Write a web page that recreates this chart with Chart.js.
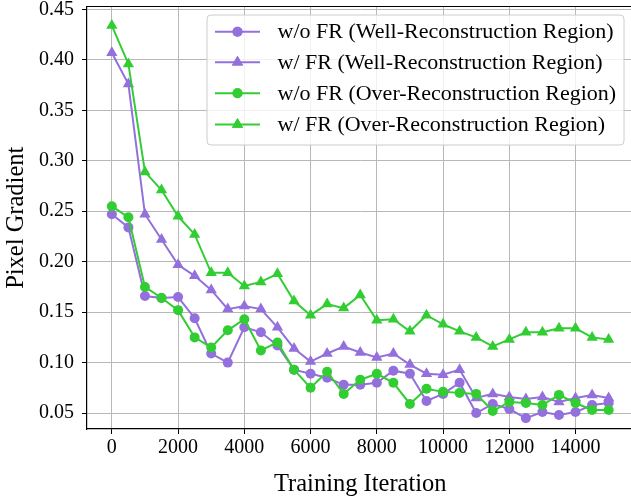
<!DOCTYPE html>
<html>
<head>
<meta charset="utf-8">
<script src="https://cdn.jsdelivr.net/npm/chart.js@4.4.0/dist/chart.umd.min.js"></script>
<style>
html,body{margin:0;padding:0;background:#fff;overflow:hidden;width:631px;height:503px;}
#wrap{position:absolute;left:0;top:0;width:640px;height:503px;}
</style>
</head>
<body>
<div id="wrap"><canvas id="c" width="640" height="503"></canvas></div>
<script>
const iterations = [0,500,1000,1500,2000,2500,3000,3500,4000,4500,5000,5500,6000,6500,7000,7500,8000,8500,9000,9500,10000,10500,11000,11500,12000,12500,13000,13500,14000,14500,15000];
const woFR_well = [0.247,0.234,0.166,0.164,0.165,0.144,0.109,0.100,0.135,0.130,0.117,0.093,0.089,0.085,0.078,0.078,0.080,0.092,0.089,0.062,0.069,0.080,0.050,0.059,0.054,0.045,0.051,0.048,0.051,0.058,0.060];
const wFR_well = [0.407,0.376,0.247,0.222,0.197,0.186,0.172,0.153,0.156,0.153,0.135,0.114,0.101,0.109,0.116,0.110,0.105,0.109,0.098,0.089,0.088,0.093,0.065,0.069,0.066,0.064,0.066,0.061,0.065,0.068,0.065];
const woFR_over = [0.255,0.244,0.175,0.164,0.152,0.125,0.115,0.132,0.143,0.112,0.120,0.093,0.075,0.091,0.069,0.083,0.089,0.080,0.059,0.074,0.071,0.070,0.069,0.052,0.061,0.060,0.058,0.068,0.060,0.053,0.053];
const wFR_over = [0.434,0.396,0.289,0.271,0.245,0.227,0.189,0.189,0.176,0.180,0.188,0.161,0.147,0.158,0.154,0.167,0.142,0.143,0.131,0.147,0.138,0.131,0.125,0.116,0.123,0.130,0.130,0.134,0.134,0.125,0.123];
const seriesLabels = ["w/o FR (Well-Reconstruction Region)","w/ FR (Well-Reconstruction Region)","w/o FR (Over-Reconstruction Region)","w/ FR (Over-Reconstruction Region)"];
const xTicks = [0,2000,4000,6000,8000,10000,12000,14000];
const yTicks = [0.05,0.10,0.15,0.20,0.25,0.30,0.35,0.40,0.45];

const PURPLE = '#9370DB', GREEN = '#32CD32';
const FONT = "'Liberation Serif', 'Times New Roman', serif";
const styles = [
  {color:PURPLE, point:'circle', r:5},
  {color:PURPLE, point:'triangle', r:6.5},
  {color:GREEN, point:'circle', r:5},
  {color:GREEN, point:'triangle', r:6.5}
];
const allSeries = [woFR_well, wFR_well, woFR_over, wFR_over];

const datasets = allSeries.map((s,i)=>({
  label: seriesLabels[i],
  data: s.map((v,j)=>({x: iterations[j], y: v})),
  borderColor: styles[i].color,
  backgroundColor: styles[i].color,
  borderWidth: 2,
  pointStyle: styles[i].point,
  pointRadius: styles[i].r,
  pointBorderWidth: 0,
  pointBackgroundColor: styles[i].color,
  tension: 0,
  order: 4 - i
}));

const framePlugin = {
  id: 'frame',
  afterDraw(chart){
    const ctx = chart.ctx, a = chart.chartArea;
    ctx.save();
    ctx.strokeStyle = '#000'; ctx.lineWidth = 1.2;
    ctx.beginPath(); ctx.moveTo(a.left, a.top); ctx.lineTo(a.right, a.top); ctx.stroke();
    // legend
    const bx = 207, by = 15, bw = 417, bh = 130, rr = 4;
    ctx.globalAlpha = 0.8;
    ctx.fillStyle = '#fff';
    ctx.beginPath();
    ctx.moveTo(bx+rr,by); ctx.lineTo(bx+bw-rr,by); ctx.arcTo(bx+bw,by,bx+bw,by+rr,rr);
    ctx.lineTo(bx+bw,by+bh-rr); ctx.arcTo(bx+bw,by+bh,bx+bw-rr,by+bh,rr);
    ctx.lineTo(bx+rr,by+bh); ctx.arcTo(bx,by+bh,bx,by+bh-rr,rr);
    ctx.lineTo(bx,by+rr); ctx.arcTo(bx,by,bx+rr,by,rr); ctx.closePath();
    ctx.fill();
    ctx.globalAlpha = 1;
    ctx.strokeStyle = '#cccccc'; ctx.lineWidth = 1;
    ctx.stroke();
    const rows = [31.7, 62.3, 93.3, 124.5];
    seriesLabels.forEach((lab,i)=>{
      const y = rows[i];
      ctx.strokeStyle = styles[i].color; ctx.lineWidth = 2;
      ctx.beginPath(); ctx.moveTo(215,y); ctx.lineTo(260,y); ctx.stroke();
      ctx.fillStyle = styles[i].color;
      Chart.helpers.drawPoint(ctx, {pointStyle: styles[i].point, radius: styles[i].r, borderWidth: 0, rotation: 0}, 237.5, y);
      ctx.fill();
      ctx.fillStyle = '#000';
      ctx.font = "22px " + FONT;
      ctx.textBaseline = 'middle'; ctx.textAlign = 'left';
      ctx.fillText(lab, 277.5, y + 1);
    });
    ctx.restore();
  }
};

new Chart(document.getElementById('c'), {
  type: 'line',
  data: { datasets },
  options: {
    responsive: false,
    animation: false,
    layout: { padding: { top: 4, right: 5, left: 0, bottom: 0 } },
    plugins: { legend: { display: false }, tooltip: { enabled: false } },
    scales: {
      x: {
        type: 'linear', min: -750, max: 15750,
        afterBuildTicks(scale){ scale.ticks = xTicks.map(v=>({value:v})); },
        afterFit(scale){ scale.height = 74; scale.paddingLeft = 0; scale.paddingRight = 0; },
        ticks: { color:'#000', font:{family:FONT, size:20}, padding: 2, maxRotation:0, autoSkip:false, callback: v => String(v) },
        grid: { color:'#b8b8b8', lineWidth:1, tickColor:'#000', tickLength:5 },
        border: { color:'#000', width:1.2 },
        title: { display:true, text:'Training Iteration', color:'#000', font:{family:FONT, size:24.5}, padding:{top:0,bottom:4} }
      },
      y: {
        min: 0.0342, max: 0.4529,
        afterBuildTicks(scale){ scale.ticks = yTicks.map(v=>({value:v})); },
        afterFit(scale){ scale.width = 87; scale.paddingTop = 0; scale.paddingBottom = 0; },
        ticks: { color:'#000', font:{family:FONT, size:20}, padding: 8, autoSkip:false, callback: v => v.toFixed(2) },
        grid: { color:'#b8b8b8', lineWidth:1, tickColor:'#000', tickLength:5 },
        border: { color:'#000', width:1.2 },
        title: { display:true, text:'Pixel Gradient', color:'#000', font:{family:FONT, size:24.5}, padding:{top:2,bottom:0} }
      }
    }
  },
  plugins: [framePlugin]
});
</script>
</body>
</html>
